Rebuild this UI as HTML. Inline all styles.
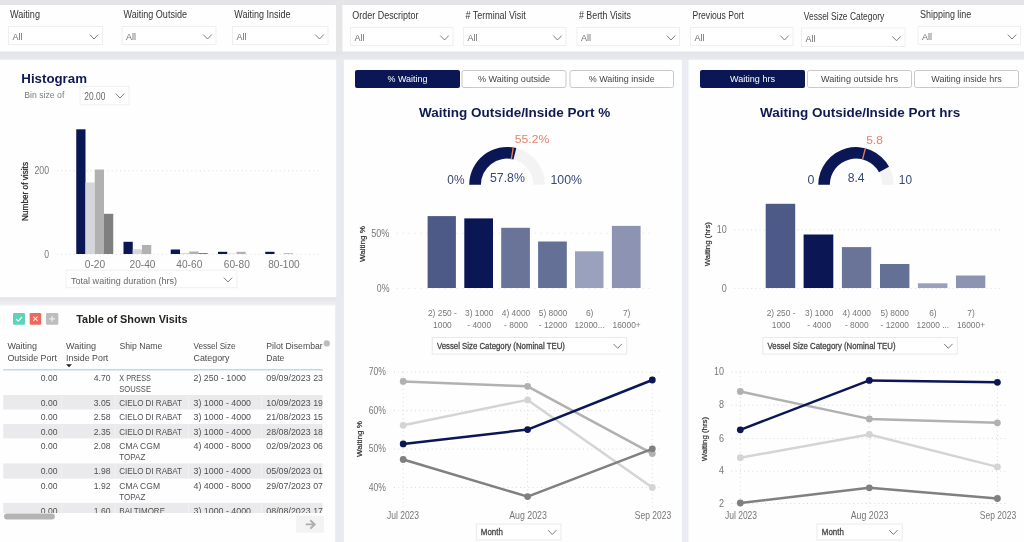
<!DOCTYPE html>
<html><head><meta charset="utf-8"><title>Port waiting dashboard</title>
<style>
html,body{margin:0;padding:0;background:#e6e6eb;}
body{width:1024px;height:542px;overflow:hidden;font-family:"Liberation Sans",sans-serif;}
svg{display:block;font-family:"Liberation Sans",sans-serif;}
#soft{filter:blur(0.38px);}
</style></head><body>
<svg width="1024" height="542" viewBox="0 0 1024 542">
<defs>
<linearGradient id="gh" x1="0" y1="0" x2="0" y2="1"><stop offset="0" stop-color="#e2e3e8"/><stop offset="1" stop-color="#e9eaee"/></linearGradient>
<linearGradient id="gh2" x1="0" y1="0" x2="0" y2="1"><stop offset="0" stop-color="#e2e3e8"/><stop offset="1" stop-color="#f1f1f5"/></linearGradient>
<clipPath id="tblclip"><rect x="0" y="330" width="322.7" height="182.9"/></clipPath>
</defs>
<rect x="0" y="0" width="1024" height="542" fill="#e6e6eb"/>
<g id="soft">

<rect x="0.00" y="0.00" width="1024.00" height="5.00" fill="#e4e4e8"/>
<rect x="335.00" y="0.00" width="9.00" height="52.00" fill="#e6e6e6"/>
<rect x="0.00" y="51.50" width="1024.00" height="8.50" fill="url(#gh)"/>
<rect x="335.00" y="60.00" width="9.50" height="482.00" fill="#e9eaf0"/>
<rect x="681.00" y="60.00" width="8.00" height="482.00" fill="#ebecf3"/>
<rect x="0.00" y="297.00" width="336.20" height="9.00" fill="url(#gh2)"/>
<rect x="-4.00" y="5.00" width="340.00" height="46.60" fill="#fefefe"/>
<rect x="342.40" y="5.00" width="687.60" height="46.60" fill="#fefefe"/>
<rect x="-4.00" y="59.80" width="340.20" height="237.40" fill="#fefefe"/>
<rect x="-4.00" y="305.40" width="339.20" height="242.60" fill="#fefefe"/>
<rect x="343.90" y="59.80" width="337.90" height="488.20" fill="#fefefe"/>
<rect x="688.50" y="59.80" width="341.50" height="488.20" fill="#fefefe"/>
<text x="10.00" y="18.20" font-size="10" fill="#333333" textLength="30.00" lengthAdjust="spacingAndGlyphs">Waiting</text>
<text x="123.50" y="18.20" font-size="10" fill="#333333" textLength="63.50" lengthAdjust="spacingAndGlyphs">Waiting Outside</text>
<text x="234.30" y="18.20" font-size="10" fill="#333333" textLength="56.20" lengthAdjust="spacingAndGlyphs">Waiting Inside</text>
<text x="352.30" y="18.80" font-size="10" fill="#333333" textLength="66.20" lengthAdjust="spacingAndGlyphs">Order Descriptor</text>
<text x="465.50" y="18.80" font-size="10" fill="#333333" textLength="60.30" lengthAdjust="spacingAndGlyphs"># Terminal Visit</text>
<text x="579.00" y="18.80" font-size="10" fill="#333333" textLength="51.80" lengthAdjust="spacingAndGlyphs"># Berth Visits</text>
<text x="692.50" y="18.80" font-size="10" fill="#333333" textLength="51.50" lengthAdjust="spacingAndGlyphs">Previous Port</text>
<text x="803.80" y="20.20" font-size="10" fill="#333333" textLength="80.50" lengthAdjust="spacingAndGlyphs">Vessel Size Category</text>
<text x="920.00" y="17.80" font-size="10" fill="#333333" textLength="51.30" lengthAdjust="spacingAndGlyphs">Shipping line</text>
<rect x="8.50" y="26.50" width="94.00" height="18.00" fill="#fff" stroke="#efefef" stroke-width="1"/>
<text x="12.50" y="40.26" font-size="9.6" fill="#707070" textLength="10.00" lengthAdjust="spacingAndGlyphs">All</text>
<path d="M89.80 34.60 L94.00 39.00 L98.20 34.60" fill="none" stroke="#757575" stroke-width="0.95"/>
<rect x="122.00" y="26.50" width="94.00" height="18.00" fill="#fff" stroke="#efefef" stroke-width="1"/>
<text x="126.00" y="40.26" font-size="9.6" fill="#707070" textLength="10.00" lengthAdjust="spacingAndGlyphs">All</text>
<path d="M203.30 34.60 L207.50 39.00 L211.70 34.60" fill="none" stroke="#757575" stroke-width="0.95"/>
<rect x="232.50" y="26.50" width="95.50" height="18.00" fill="#fff" stroke="#efefef" stroke-width="1"/>
<text x="236.50" y="40.26" font-size="9.6" fill="#707070" textLength="10.00" lengthAdjust="spacingAndGlyphs">All</text>
<path d="M315.30 34.60 L319.50 39.00 L323.70 34.60" fill="none" stroke="#757575" stroke-width="0.95"/>
<rect x="350.50" y="27.50" width="102.50" height="18.00" fill="#fff" stroke="#efefef" stroke-width="1"/>
<text x="354.50" y="41.26" font-size="9.6" fill="#707070" textLength="10.00" lengthAdjust="spacingAndGlyphs">All</text>
<path d="M440.30 35.60 L444.50 40.00 L448.70 35.60" fill="none" stroke="#757575" stroke-width="0.95"/>
<rect x="463.50" y="27.50" width="102.50" height="18.00" fill="#fff" stroke="#efefef" stroke-width="1"/>
<text x="467.50" y="41.26" font-size="9.6" fill="#707070" textLength="10.00" lengthAdjust="spacingAndGlyphs">All</text>
<path d="M553.30 35.60 L557.50 40.00 L561.70 35.60" fill="none" stroke="#757575" stroke-width="0.95"/>
<rect x="577.00" y="27.50" width="102.50" height="18.00" fill="#fff" stroke="#efefef" stroke-width="1"/>
<text x="581.00" y="41.26" font-size="9.6" fill="#707070" textLength="10.00" lengthAdjust="spacingAndGlyphs">All</text>
<path d="M666.80 35.60 L671.00 40.00 L675.20 35.60" fill="none" stroke="#757575" stroke-width="0.95"/>
<rect x="690.50" y="27.50" width="102.50" height="18.00" fill="#fff" stroke="#efefef" stroke-width="1"/>
<text x="694.50" y="41.26" font-size="9.6" fill="#707070" textLength="10.00" lengthAdjust="spacingAndGlyphs">All</text>
<path d="M780.30 35.60 L784.50 40.00 L788.70 35.60" fill="none" stroke="#757575" stroke-width="0.95"/>
<rect x="801.50" y="28.00" width="103.50" height="18.50" fill="#fff" stroke="#efefef" stroke-width="1"/>
<text x="805.50" y="42.01" font-size="9.6" fill="#707070" textLength="10.00" lengthAdjust="spacingAndGlyphs">All</text>
<path d="M892.30 36.35 L896.50 40.75 L900.70 36.35" fill="none" stroke="#757575" stroke-width="0.95"/>
<rect x="918.00" y="26.50" width="102.50" height="18.00" fill="#fff" stroke="#efefef" stroke-width="1"/>
<text x="922.00" y="40.26" font-size="9.6" fill="#707070" textLength="10.00" lengthAdjust="spacingAndGlyphs">All</text>
<path d="M1007.80 34.60 L1012.00 39.00 L1016.20 34.60" fill="none" stroke="#757575" stroke-width="0.95"/>
<text x="21.30" y="82.50" font-size="13" fill="#0f1a52" font-weight="700" textLength="65.70" lengthAdjust="spacingAndGlyphs">Histogram</text>
<text x="24.30" y="98.20" font-size="9.5" fill="#7a7a7a" textLength="40.00" lengthAdjust="spacingAndGlyphs">Bin size of</text>
<rect x="80.00" y="86.30" width="49.00" height="18.50" fill="#fff" stroke="#efefef" stroke-width="1"/>
<text x="84.30" y="100.15" font-size="10" fill="#666" textLength="21.00" lengthAdjust="spacingAndGlyphs">20.00</text>
<path d="M115.80 93.65 L120.00 98.05 L124.20 93.65" fill="none" stroke="#757575" stroke-width="0.95"/>
<line x1="57.00" y1="170.80" x2="319.00" y2="170.80" stroke="#d9d9d9" stroke-width="1" stroke-dasharray="1 3.2"/>
<line x1="57.00" y1="254.30" x2="319.00" y2="254.30" stroke="#d9d9d9" stroke-width="1" stroke-dasharray="1 3.2"/>
<text x="34.50" y="174.40" font-size="10" fill="#777" textLength="14.50" lengthAdjust="spacingAndGlyphs">200</text>
<text x="44.20" y="257.80" font-size="10" fill="#777" textLength="4.80" lengthAdjust="spacingAndGlyphs">0</text>
<text transform="translate(28.20,191.50) rotate(-90)" x="-29.50" y="0" font-size="8.5" fill="#222" stroke="#222" stroke-width="0.22" textLength="59.00" lengthAdjust="spacingAndGlyphs">Number of visits</text>
<rect x="76.25" y="129.30" width="9.25" height="124.70" fill="#0b1654"/>
<rect x="85.50" y="182.50" width="9.25" height="71.50" fill="#d5d6da"/>
<rect x="94.75" y="169.50" width="9.25" height="84.50" fill="#b1b1b1"/>
<rect x="104.00" y="213.80" width="9.25" height="40.20" fill="#7f7f7f"/>
<rect x="123.50" y="241.80" width="9.25" height="12.20" fill="#0b1654"/>
<rect x="132.75" y="249.30" width="9.25" height="4.70" fill="#d5d6da"/>
<rect x="142.00" y="245.00" width="9.25" height="9.00" fill="#b1b1b1"/>
<rect x="170.75" y="249.50" width="9.25" height="4.50" fill="#0b1654"/>
<rect x="180.00" y="253.00" width="9.25" height="1.00" fill="#d5d6da"/>
<rect x="189.25" y="251.50" width="9.25" height="2.50" fill="#b1b1b1"/>
<rect x="198.50" y="253.00" width="9.25" height="1.00" fill="#7f7f7f"/>
<rect x="218.00" y="251.80" width="9.25" height="2.20" fill="#0b1654"/>
<rect x="227.25" y="253.50" width="9.25" height="0.50" fill="#d5d6da"/>
<rect x="236.50" y="251.80" width="9.25" height="2.20" fill="#b1b1b1"/>
<rect x="265.25" y="251.80" width="9.25" height="2.20" fill="#0b1654"/>
<rect x="283.75" y="253.20" width="9.25" height="0.80" fill="#b1b1b1"/>
<text x="84.75" y="267.60" font-size="11" fill="#777" textLength="20.50" lengthAdjust="spacingAndGlyphs">0-20</text>
<text x="129.50" y="267.60" font-size="11" fill="#777" textLength="26.00" lengthAdjust="spacingAndGlyphs">20-40</text>
<text x="176.30" y="267.60" font-size="11" fill="#777" textLength="26.00" lengthAdjust="spacingAndGlyphs">40-60</text>
<text x="223.80" y="267.60" font-size="11" fill="#777" textLength="26.00" lengthAdjust="spacingAndGlyphs">60-80</text>
<text x="268.25" y="267.60" font-size="11" fill="#777" textLength="31.50" lengthAdjust="spacingAndGlyphs">80-100</text>
<rect x="66.00" y="270.10" width="171.00" height="17.60" fill="#fff" stroke="#efefef" stroke-width="1"/>
<text x="71.00" y="283.56" font-size="9.6" fill="#666" textLength="106.00" lengthAdjust="spacingAndGlyphs">Total waiting duration (hrs)</text>
<path d="M223.80 277.60 L228.00 282.00 L232.20 277.60" fill="none" stroke="#757575" stroke-width="0.95"/>
<rect x="13" y="313" width="12" height="11.699999999999989" rx="1.2" fill="#5fd2ba"/>
<path d="M16.2 319.2 L18.3 321.2 L22 317" fill="none" stroke="#fff" stroke-width="1.15" opacity="0.9"/>
<rect x="29.7" y="313" width="11.500000000000004" height="11.699999999999989" rx="1.2" fill="#e9695c"/>
<path d="M33.3 316.6 L37.6 320.9 M37.6 316.6 L33.3 320.9" fill="none" stroke="#fff" stroke-width="1.1" opacity="0.85"/>
<rect x="46" y="313" width="12.299999999999997" height="11.699999999999989" rx="1.2" fill="#bdbdbd"/>
<path d="M52.15 316 L52.15 321.8 M49.2 318.9 L55.1 318.9" fill="none" stroke="#ececec" stroke-width="1.3"/>
<text x="76.30" y="322.90" font-size="11.5" fill="#252423" font-weight="700" textLength="111.20" lengthAdjust="spacingAndGlyphs">Table of Shown Visits</text>
<text x="7.40" y="349.40" font-size="9.5" fill="#4a4a4a" textLength="29.60" lengthAdjust="spacingAndGlyphs">Waiting</text>
<text x="7.40" y="361.20" font-size="9.5" fill="#4a4a4a" textLength="49.60" lengthAdjust="spacingAndGlyphs">Outside Port</text>
<text x="66.10" y="349.40" font-size="9.5" fill="#4a4a4a" textLength="29.90" lengthAdjust="spacingAndGlyphs">Waiting</text>
<text x="66.10" y="361.20" font-size="9.5" fill="#4a4a4a" textLength="42.20" lengthAdjust="spacingAndGlyphs">Inside Port</text>
<text x="119.40" y="349.40" font-size="9.5" fill="#4a4a4a" textLength="42.90" lengthAdjust="spacingAndGlyphs">Ship Name</text>
<text x="193.50" y="349.40" font-size="9.5" fill="#4a4a4a" textLength="42.00" lengthAdjust="spacingAndGlyphs">Vessel Size</text>
<text x="193.50" y="361.20" font-size="9.5" fill="#4a4a4a" textLength="36.00" lengthAdjust="spacingAndGlyphs">Category</text>
<g clip-path="url(#tblclip)">
<text x="266.30" y="349.40" font-size="9.5" fill="#4a4a4a" textLength="79.50" lengthAdjust="spacingAndGlyphs">Pilot Disembarkation</text>
<text x="266.30" y="361.20" font-size="9.5" fill="#4a4a4a" textLength="18.00" lengthAdjust="spacingAndGlyphs">Date</text>
</g>
<path d="M66 364.2 L72 364.2 L69 367.2 Z" fill="#222"/>
<circle cx="326.8" cy="343.4" r="3.1" fill="#bdbdbd"/>
<rect x="3.30" y="369.20" width="319.40" height="1.20" fill="#a9d2f3"/>
<g clip-path="url(#tblclip)">
<text x="40.80" y="381.20" font-size="9.2" fill="#4f4f4f" textLength="16.70" lengthAdjust="spacingAndGlyphs">0.00</text>
<text x="93.80" y="381.20" font-size="9.2" fill="#4f4f4f" textLength="16.70" lengthAdjust="spacingAndGlyphs">4.70</text>
<text x="119.30" y="381.20" font-size="9.2" fill="#4f4f4f" textLength="31.70" lengthAdjust="spacingAndGlyphs">X PRESS</text>
<text x="119.30" y="391.90" font-size="9.2" fill="#4f4f4f" textLength="31.70" lengthAdjust="spacingAndGlyphs">SOUSSE</text>
<text x="193.50" y="381.20" font-size="9.2" fill="#4f4f4f" textLength="52.50" lengthAdjust="spacingAndGlyphs">2) 250 - 1000</text>
<text x="266.30" y="381.20" font-size="9.2" fill="#4f4f4f" textLength="56.70" lengthAdjust="spacingAndGlyphs">09/09/2023 23</text>
<rect x="3.30" y="395.00" width="319.40" height="14.50" fill="#eaeaec"/>
<line x1="61.7" y1="396.0" x2="61.7" y2="408.5" stroke="#f1f1f3" stroke-width="1"/>
<line x1="115.0" y1="396.0" x2="115.0" y2="408.5" stroke="#f1f1f3" stroke-width="1"/>
<line x1="188.5" y1="396.0" x2="188.5" y2="408.5" stroke="#f1f1f3" stroke-width="1"/>
<line x1="261.5" y1="396.0" x2="261.5" y2="408.5" stroke="#f1f1f3" stroke-width="1"/>
<text x="40.80" y="405.80" font-size="9.2" fill="#4f4f4f" textLength="16.70" lengthAdjust="spacingAndGlyphs">0.00</text>
<text x="93.80" y="405.80" font-size="9.2" fill="#4f4f4f" textLength="16.70" lengthAdjust="spacingAndGlyphs">3.05</text>
<text x="119.30" y="405.80" font-size="9.2" fill="#4f4f4f" textLength="62.70" lengthAdjust="spacingAndGlyphs">CIELO DI RABAT</text>
<text x="193.50" y="405.80" font-size="9.2" fill="#4f4f4f" textLength="57.50" lengthAdjust="spacingAndGlyphs">3) 1000 - 4000</text>
<text x="266.30" y="405.80" font-size="9.2" fill="#4f4f4f" textLength="56.70" lengthAdjust="spacingAndGlyphs">10/09/2023 19</text>
<text x="40.80" y="420.30" font-size="9.2" fill="#4f4f4f" textLength="16.70" lengthAdjust="spacingAndGlyphs">0.00</text>
<text x="93.80" y="420.30" font-size="9.2" fill="#4f4f4f" textLength="16.70" lengthAdjust="spacingAndGlyphs">2.58</text>
<text x="119.30" y="420.30" font-size="9.2" fill="#4f4f4f" textLength="62.70" lengthAdjust="spacingAndGlyphs">CIELO DI RABAT</text>
<text x="193.50" y="420.30" font-size="9.2" fill="#4f4f4f" textLength="57.50" lengthAdjust="spacingAndGlyphs">3) 1000 - 4000</text>
<text x="266.30" y="420.30" font-size="9.2" fill="#4f4f4f" textLength="56.70" lengthAdjust="spacingAndGlyphs">21/08/2023 15</text>
<rect x="3.30" y="424.00" width="319.40" height="14.40" fill="#eaeaec"/>
<line x1="61.7" y1="425.0" x2="61.7" y2="437.4" stroke="#f1f1f3" stroke-width="1"/>
<line x1="115.0" y1="425.0" x2="115.0" y2="437.4" stroke="#f1f1f3" stroke-width="1"/>
<line x1="188.5" y1="425.0" x2="188.5" y2="437.4" stroke="#f1f1f3" stroke-width="1"/>
<line x1="261.5" y1="425.0" x2="261.5" y2="437.4" stroke="#f1f1f3" stroke-width="1"/>
<text x="40.80" y="434.80" font-size="9.2" fill="#4f4f4f" textLength="16.70" lengthAdjust="spacingAndGlyphs">0.00</text>
<text x="93.80" y="434.80" font-size="9.2" fill="#4f4f4f" textLength="16.70" lengthAdjust="spacingAndGlyphs">2.35</text>
<text x="119.30" y="434.80" font-size="9.2" fill="#4f4f4f" textLength="62.70" lengthAdjust="spacingAndGlyphs">CIELO DI RABAT</text>
<text x="193.50" y="434.80" font-size="9.2" fill="#4f4f4f" textLength="57.50" lengthAdjust="spacingAndGlyphs">3) 1000 - 4000</text>
<text x="266.30" y="434.80" font-size="9.2" fill="#4f4f4f" textLength="56.70" lengthAdjust="spacingAndGlyphs">28/08/2023 18</text>
<text x="40.80" y="449.20" font-size="9.2" fill="#4f4f4f" textLength="16.70" lengthAdjust="spacingAndGlyphs">0.00</text>
<text x="93.80" y="449.20" font-size="9.2" fill="#4f4f4f" textLength="16.70" lengthAdjust="spacingAndGlyphs">2.08</text>
<text x="119.30" y="449.20" font-size="9.2" fill="#4f4f4f" textLength="40.70" lengthAdjust="spacingAndGlyphs">CMA CGM</text>
<text x="119.30" y="459.90" font-size="9.2" fill="#4f4f4f" textLength="26.00" lengthAdjust="spacingAndGlyphs">TOPAZ</text>
<text x="193.50" y="449.20" font-size="9.2" fill="#4f4f4f" textLength="57.50" lengthAdjust="spacingAndGlyphs">4) 4000 - 8000</text>
<text x="266.30" y="449.20" font-size="9.2" fill="#4f4f4f" textLength="56.70" lengthAdjust="spacingAndGlyphs">02/09/2023 06</text>
<rect x="3.30" y="463.40" width="319.40" height="15.20" fill="#eaeaec"/>
<line x1="61.7" y1="464.4" x2="61.7" y2="477.6" stroke="#f1f1f3" stroke-width="1"/>
<line x1="115.0" y1="464.4" x2="115.0" y2="477.6" stroke="#f1f1f3" stroke-width="1"/>
<line x1="188.5" y1="464.4" x2="188.5" y2="477.6" stroke="#f1f1f3" stroke-width="1"/>
<line x1="261.5" y1="464.4" x2="261.5" y2="477.6" stroke="#f1f1f3" stroke-width="1"/>
<text x="40.80" y="474.20" font-size="9.2" fill="#4f4f4f" textLength="16.70" lengthAdjust="spacingAndGlyphs">0.00</text>
<text x="93.80" y="474.20" font-size="9.2" fill="#4f4f4f" textLength="16.70" lengthAdjust="spacingAndGlyphs">1.98</text>
<text x="119.30" y="474.20" font-size="9.2" fill="#4f4f4f" textLength="62.70" lengthAdjust="spacingAndGlyphs">CIELO DI RABAT</text>
<text x="193.50" y="474.20" font-size="9.2" fill="#4f4f4f" textLength="57.50" lengthAdjust="spacingAndGlyphs">3) 1000 - 4000</text>
<text x="266.30" y="474.20" font-size="9.2" fill="#4f4f4f" textLength="56.70" lengthAdjust="spacingAndGlyphs">05/09/2023 01</text>
<text x="40.80" y="489.40" font-size="9.2" fill="#4f4f4f" textLength="16.70" lengthAdjust="spacingAndGlyphs">0.00</text>
<text x="93.80" y="489.40" font-size="9.2" fill="#4f4f4f" textLength="16.70" lengthAdjust="spacingAndGlyphs">1.92</text>
<text x="119.30" y="489.40" font-size="9.2" fill="#4f4f4f" textLength="40.70" lengthAdjust="spacingAndGlyphs">CMA CGM</text>
<text x="119.30" y="500.10" font-size="9.2" fill="#4f4f4f" textLength="26.00" lengthAdjust="spacingAndGlyphs">TOPAZ</text>
<text x="193.50" y="489.40" font-size="9.2" fill="#4f4f4f" textLength="57.50" lengthAdjust="spacingAndGlyphs">4) 4000 - 8000</text>
<text x="266.30" y="489.40" font-size="9.2" fill="#4f4f4f" textLength="56.70" lengthAdjust="spacingAndGlyphs">29/07/2023 07</text>
<rect x="3.30" y="502.90" width="319.40" height="17.10" fill="#eaeaec"/>
<line x1="61.7" y1="503.9" x2="61.7" y2="519.0" stroke="#f1f1f3" stroke-width="1"/>
<line x1="115.0" y1="503.9" x2="115.0" y2="519.0" stroke="#f1f1f3" stroke-width="1"/>
<line x1="188.5" y1="503.9" x2="188.5" y2="519.0" stroke="#f1f1f3" stroke-width="1"/>
<line x1="261.5" y1="503.9" x2="261.5" y2="519.0" stroke="#f1f1f3" stroke-width="1"/>
<text x="40.80" y="513.70" font-size="9.2" fill="#4f4f4f" textLength="16.70" lengthAdjust="spacingAndGlyphs">0.00</text>
<text x="93.80" y="513.70" font-size="9.2" fill="#4f4f4f" textLength="16.70" lengthAdjust="spacingAndGlyphs">1.60</text>
<text x="119.30" y="513.70" font-size="9.2" fill="#4f4f4f" textLength="45.70" lengthAdjust="spacingAndGlyphs">BALTIMORE</text>
<text x="193.50" y="513.70" font-size="9.2" fill="#4f4f4f" textLength="57.50" lengthAdjust="spacingAndGlyphs">3) 1000 - 4000</text>
<text x="266.30" y="513.70" font-size="9.2" fill="#4f4f4f" textLength="56.70" lengthAdjust="spacingAndGlyphs">08/08/2023 17</text>
</g>
<rect x="4" y="513.4" width="50.8" height="6" rx="3" fill="#b4b4b4"/>
<rect x="296.10" y="515.90" width="27.80" height="16.80" fill="#f3f3f3"/>
<path d="M305.8 524.4 L314.4 524.4 M310.3 520.2 L314.7 524.4 L310.3 528.6" fill="none" stroke="#adadad" stroke-width="1.9"/>
<rect x="355" y="70" width="105" height="18" rx="2" fill="#0b1654"/>
<text x="387.50" y="82.33" font-size="9.5" fill="#fff" textLength="40.00" lengthAdjust="spacingAndGlyphs">% Waiting</text>
<rect x="462.0" y="70.5" width="104.0" height="17" rx="2" fill="#fff" stroke="#c9c9c9" stroke-width="1"/>
<text x="478.00" y="82.33" font-size="9.5" fill="#444" textLength="72.00" lengthAdjust="spacingAndGlyphs">% Waiting outside</text>
<rect x="570.0" y="70.5" width="103.5" height="17" rx="2" fill="#fff" stroke="#c9c9c9" stroke-width="1"/>
<text x="588.75" y="82.33" font-size="9.5" fill="#444" textLength="66.00" lengthAdjust="spacingAndGlyphs">% Waiting inside</text>
<text x="419.00" y="116.60" font-size="12.3" fill="#0f1a52" font-weight="700" textLength="191.30" lengthAdjust="spacingAndGlyphs">Waiting Outside/Inside Port %</text>
<path d="M469.20 184.80 A37.9 37.9 0 0 1 545.00 184.80 L533.30 184.80 A26.2 26.2 0 0 0 480.90 184.80 Z" fill="#f3f3f3"/>
<path d="M469.20 184.80 A37.9 37.9 0 0 1 516.29 148.03 L513.46 159.38 A26.2 26.2 0 0 0 480.90 184.80 Z" fill="#0b1654"/>
<line x1="513.35" y1="146.91" x2="511.28" y2="159.44" stroke="#e8806c" stroke-width="1.3"/>
<text x="514.70" y="143.00" font-size="11.6" fill="#e8806c" textLength="34.60" lengthAdjust="spacingAndGlyphs">55.2%</text>
<text x="447.30" y="184.40" font-size="12.2" fill="#3a4878" textLength="17.20" lengthAdjust="spacingAndGlyphs">0%</text>
<text x="490.00" y="181.90" font-size="12.2" fill="#3a4878" textLength="34.90" lengthAdjust="spacingAndGlyphs">57.8%</text>
<text x="550.50" y="184.40" font-size="12.2" fill="#3a4878" textLength="31.50" lengthAdjust="spacingAndGlyphs">100%</text>
<line x1="396.70" y1="233.30" x2="654.30" y2="233.30" stroke="#d9d9d9" stroke-width="1" stroke-dasharray="1 5"/>
<line x1="396.70" y1="288.30" x2="654.30" y2="288.30" stroke="#d9d9d9" stroke-width="1" stroke-dasharray="1 5"/>
<text x="371.20" y="236.80" font-size="10.3" fill="#777" textLength="18.30" lengthAdjust="spacingAndGlyphs">50%</text>
<text x="376.80" y="291.80" font-size="10.3" fill="#777" textLength="12.70" lengthAdjust="spacingAndGlyphs">0%</text>
<text transform="translate(365.20,244.00) rotate(-90)" x="-18.00" y="0" font-size="7.9" fill="#333" stroke="#333" stroke-width="0.22" textLength="36.00" lengthAdjust="spacingAndGlyphs">Waiting %</text>
<rect x="427.60" y="216.10" width="28.30" height="71.90" fill="#4d5a87"/>
<rect x="464.30" y="218.40" width="28.70" height="69.60" fill="#0b1654"/>
<rect x="501.20" y="227.80" width="28.70" height="60.20" fill="#6a7499"/>
<rect x="538.10" y="241.50" width="28.70" height="46.50" fill="#647096"/>
<rect x="575.00" y="251.30" width="28.50" height="36.70" fill="#9aa1bd"/>
<rect x="611.90" y="225.90" width="28.70" height="62.10" fill="#8d94b2"/>
<text x="427.96" y="316.10" font-size="9.8" fill="#777" textLength="28.87" lengthAdjust="spacingAndGlyphs">2) 250 -</text>
<text x="433.08" y="328.20" font-size="9.8" fill="#777" textLength="18.64" lengthAdjust="spacingAndGlyphs">1000</text>
<text x="464.99" y="316.10" font-size="9.8" fill="#777" textLength="28.42" lengthAdjust="spacingAndGlyphs">3) 1000</text>
<text x="467.32" y="328.20" font-size="9.8" fill="#777" textLength="23.76" lengthAdjust="spacingAndGlyphs">- 4000</text>
<text x="501.79" y="316.10" font-size="9.8" fill="#777" textLength="28.42" lengthAdjust="spacingAndGlyphs">4) 4000</text>
<text x="504.12" y="328.20" font-size="9.8" fill="#777" textLength="23.76" lengthAdjust="spacingAndGlyphs">- 8000</text>
<text x="538.79" y="316.10" font-size="9.8" fill="#777" textLength="28.42" lengthAdjust="spacingAndGlyphs">5) 8000</text>
<text x="538.79" y="328.20" font-size="9.8" fill="#777" textLength="28.42" lengthAdjust="spacingAndGlyphs">- 12000</text>
<text x="585.88" y="316.10" font-size="9.8" fill="#777" textLength="7.45" lengthAdjust="spacingAndGlyphs">6)</text>
<text x="574.46" y="328.20" font-size="9.8" fill="#777" textLength="30.28" lengthAdjust="spacingAndGlyphs">12000...</text>
<text x="622.88" y="316.10" font-size="9.8" fill="#777" textLength="7.45" lengthAdjust="spacingAndGlyphs">7)</text>
<text x="612.50" y="328.20" font-size="9.8" fill="#777" textLength="28.19" lengthAdjust="spacingAndGlyphs">16000+</text>
<rect x="432.20" y="337.50" width="194.50" height="16.60" fill="#fff" stroke="#e9e9e9" stroke-width="1"/>
<text x="436.90" y="348.86" font-size="8.5" fill="#444" textLength="128.00" lengthAdjust="spacingAndGlyphs" stroke="#444" stroke-width="0.28">Vessel Size Category (Nominal TEU)</text>
<path d="M613.50 343.90 L617.70 348.30 L621.90 343.90" fill="none" stroke="#757575" stroke-width="0.95"/>
<line x1="394.00" y1="372.00" x2="661.00" y2="372.00" stroke="#d9d9d9" stroke-width="1" stroke-dasharray="1 3.2"/>
<line x1="394.00" y1="410.70" x2="661.00" y2="410.70" stroke="#d9d9d9" stroke-width="1" stroke-dasharray="1 3.2"/>
<line x1="394.00" y1="449.10" x2="661.00" y2="449.10" stroke="#d9d9d9" stroke-width="1" stroke-dasharray="1 3.2"/>
<line x1="394.00" y1="487.40" x2="661.00" y2="487.40" stroke="#d9d9d9" stroke-width="1" stroke-dasharray="1 3.2"/>
<line x1="403.20" y1="372.00" x2="403.20" y2="507.00" stroke="#d9d9d9" stroke-width="1" stroke-dasharray="1 3.2"/>
<line x1="527.60" y1="372.00" x2="527.60" y2="507.00" stroke="#d9d9d9" stroke-width="1" stroke-dasharray="1 3.2"/>
<line x1="652.30" y1="372.00" x2="652.30" y2="507.00" stroke="#d9d9d9" stroke-width="1" stroke-dasharray="1 3.2"/>
<text x="368.80" y="375.20" font-size="10.3" fill="#777" textLength="17.20" lengthAdjust="spacingAndGlyphs">70%</text>
<text x="368.80" y="413.90" font-size="10.3" fill="#777" textLength="17.20" lengthAdjust="spacingAndGlyphs">60%</text>
<text x="368.80" y="452.30" font-size="10.3" fill="#777" textLength="17.20" lengthAdjust="spacingAndGlyphs">50%</text>
<text x="368.80" y="490.60" font-size="10.3" fill="#777" textLength="17.20" lengthAdjust="spacingAndGlyphs">40%</text>
<text transform="translate(361.60,439.00) rotate(-90)" x="-18.00" y="0" font-size="7.9" fill="#333" stroke="#333" stroke-width="0.22" textLength="36.00" lengthAdjust="spacingAndGlyphs">Waiting %</text>
<polyline points="403.20,425.30 527.60,399.90 652.30,487.40" fill="none" stroke="#d4d4d4" stroke-width="2.5" stroke-linejoin="round" stroke-linecap="round"/>
<circle cx="403.20" cy="425.30" r="3.4" fill="#d4d4d4"/>
<circle cx="527.60" cy="399.90" r="3.4" fill="#d4d4d4"/>
<circle cx="652.30" cy="487.40" r="3.4" fill="#d4d4d4"/>
<polyline points="403.20,381.40 527.60,386.30 652.30,453.60" fill="none" stroke="#b1b1b1" stroke-width="2.5" stroke-linejoin="round" stroke-linecap="round"/>
<circle cx="403.20" cy="381.40" r="3.4" fill="#b1b1b1"/>
<circle cx="527.60" cy="386.30" r="3.4" fill="#b1b1b1"/>
<circle cx="652.30" cy="453.60" r="3.4" fill="#b1b1b1"/>
<polyline points="403.20,459.50 527.60,496.60 652.30,448.80" fill="none" stroke="#808080" stroke-width="2.5" stroke-linejoin="round" stroke-linecap="round"/>
<circle cx="403.20" cy="459.50" r="3.4" fill="#808080"/>
<circle cx="527.60" cy="496.60" r="3.4" fill="#808080"/>
<circle cx="652.30" cy="448.80" r="3.4" fill="#808080"/>
<polyline points="403.20,443.90 527.60,429.60 652.30,380.00" fill="none" stroke="#0b1654" stroke-width="2.5" stroke-linejoin="round" stroke-linecap="round"/>
<circle cx="403.20" cy="443.90" r="3.4" fill="#0b1654"/>
<circle cx="527.60" cy="429.60" r="3.4" fill="#0b1654"/>
<circle cx="652.30" cy="380.00" r="3.4" fill="#0b1654"/>
<text x="386.90" y="519.00" font-size="10.3" fill="#777" textLength="32.20" lengthAdjust="spacingAndGlyphs">Jul 2023</text>
<text x="509.15" y="519.00" font-size="10.3" fill="#777" textLength="37.70" lengthAdjust="spacingAndGlyphs">Aug 2023</text>
<text x="634.85" y="519.00" font-size="10.3" fill="#777" textLength="36.30" lengthAdjust="spacingAndGlyphs">Sep 2023</text>
<rect x="476.30" y="524.00" width="84.70" height="16.00" fill="#fff" stroke="#e9e9e9" stroke-width="1"/>
<text x="480.80" y="535.17" font-size="8.8" fill="#444" textLength="22.00" lengthAdjust="spacingAndGlyphs" stroke="#444" stroke-width="0.28">Month</text>
<path d="M548.00 530.10 L552.20 534.50 L556.40 530.10" fill="none" stroke="#757575" stroke-width="0.95"/>
<rect x="700" y="70" width="105" height="18" rx="2" fill="#0b1654"/>
<text x="730.00" y="82.33" font-size="9.5" fill="#fff" textLength="45.00" lengthAdjust="spacingAndGlyphs">Waiting hrs</text>
<rect x="807.5" y="70.5" width="104" height="17" rx="2" fill="#fff" stroke="#c9c9c9" stroke-width="1"/>
<text x="821.00" y="82.33" font-size="9.5" fill="#444" textLength="77.00" lengthAdjust="spacingAndGlyphs">Waiting outside hrs</text>
<rect x="914.5" y="70.5" width="104" height="17" rx="2" fill="#fff" stroke="#c9c9c9" stroke-width="1"/>
<text x="931.25" y="82.33" font-size="9.5" fill="#444" textLength="70.50" lengthAdjust="spacingAndGlyphs">Waiting inside hrs</text>
<text x="760.00" y="116.60" font-size="12.3" fill="#0f1a52" font-weight="700" textLength="200.30" lengthAdjust="spacingAndGlyphs">Waiting Outside/Inside Port hrs</text>
<path d="M818.30 184.80 A37.7 37.7 0 0 1 893.70 184.80 L882.20 184.80 A26.2 26.2 0 0 0 829.80 184.80 Z" fill="#f3f3f3"/>
<path d="M818.30 184.80 A37.7 37.7 0 0 1 889.04 166.64 L878.96 172.18 A26.2 26.2 0 0 0 829.80 184.80 Z" fill="#0b1654"/>
<line x1="865.50" y1="147.80" x2="862.39" y2="159.91" stroke="#e8806c" stroke-width="1.3"/>
<text x="866.20" y="143.60" font-size="11.6" fill="#e8806c" textLength="16.60" lengthAdjust="spacingAndGlyphs">5.8</text>
<text x="807.60" y="184.40" font-size="12.2" fill="#3a4878" textLength="6.90" lengthAdjust="spacingAndGlyphs">0</text>
<text x="847.70" y="181.90" font-size="12.2" fill="#3a4878" textLength="16.90" lengthAdjust="spacingAndGlyphs">8.4</text>
<text x="898.80" y="184.40" font-size="12.2" fill="#3a4878" textLength="13.20" lengthAdjust="spacingAndGlyphs">10</text>
<line x1="734.30" y1="229.80" x2="1000.00" y2="229.80" stroke="#d9d9d9" stroke-width="1" stroke-dasharray="1 3.2"/>
<line x1="734.30" y1="288.30" x2="1000.00" y2="288.30" stroke="#d9d9d9" stroke-width="1" stroke-dasharray="1 3.2"/>
<text x="716.70" y="233.30" font-size="10.3" fill="#777" textLength="10.00" lengthAdjust="spacingAndGlyphs">10</text>
<text x="721.70" y="291.80" font-size="10.3" fill="#777" textLength="5.00" lengthAdjust="spacingAndGlyphs">0</text>
<text transform="translate(710.20,244.20) rotate(-90)" x="-22.15" y="0" font-size="7.9" fill="#333" stroke="#333" stroke-width="0.22" textLength="44.30" lengthAdjust="spacingAndGlyphs">Waiting (hrs)</text>
<rect x="765.70" y="203.80" width="29.50" height="84.20" fill="#4d5a87"/>
<rect x="803.60" y="234.50" width="29.70" height="53.50" fill="#0b1654"/>
<rect x="841.90" y="247.10" width="29.30" height="40.90" fill="#6a7499"/>
<rect x="880.00" y="264.00" width="29.40" height="24.00" fill="#647096"/>
<rect x="917.90" y="283.30" width="29.50" height="4.70" fill="#9aa1bd"/>
<rect x="956.00" y="275.50" width="29.30" height="12.50" fill="#8d94b2"/>
<text x="766.66" y="316.10" font-size="9.8" fill="#777" textLength="28.87" lengthAdjust="spacingAndGlyphs">2) 250 -</text>
<text x="771.78" y="328.20" font-size="9.8" fill="#777" textLength="18.64" lengthAdjust="spacingAndGlyphs">1000</text>
<text x="804.99" y="316.10" font-size="9.8" fill="#777" textLength="28.42" lengthAdjust="spacingAndGlyphs">3) 1000</text>
<text x="807.32" y="328.20" font-size="9.8" fill="#777" textLength="23.76" lengthAdjust="spacingAndGlyphs">- 4000</text>
<text x="842.59" y="316.10" font-size="9.8" fill="#777" textLength="28.42" lengthAdjust="spacingAndGlyphs">4) 4000</text>
<text x="844.92" y="328.20" font-size="9.8" fill="#777" textLength="23.76" lengthAdjust="spacingAndGlyphs">- 8000</text>
<text x="880.59" y="316.10" font-size="9.8" fill="#777" textLength="28.42" lengthAdjust="spacingAndGlyphs">5) 8000</text>
<text x="880.59" y="328.20" font-size="9.8" fill="#777" textLength="28.42" lengthAdjust="spacingAndGlyphs">- 12000</text>
<text x="929.18" y="316.10" font-size="9.8" fill="#777" textLength="7.45" lengthAdjust="spacingAndGlyphs">6)</text>
<text x="916.60" y="328.20" font-size="9.8" fill="#777" textLength="32.61" lengthAdjust="spacingAndGlyphs">12000 ...</text>
<text x="967.28" y="316.10" font-size="9.8" fill="#777" textLength="7.45" lengthAdjust="spacingAndGlyphs">7)</text>
<text x="956.90" y="328.20" font-size="9.8" fill="#777" textLength="28.19" lengthAdjust="spacingAndGlyphs">16000+</text>
<rect x="762.80" y="337.50" width="194.50" height="16.60" fill="#fff" stroke="#e9e9e9" stroke-width="1"/>
<text x="767.50" y="348.86" font-size="8.5" fill="#444" textLength="128.00" lengthAdjust="spacingAndGlyphs" stroke="#444" stroke-width="0.28">Vessel Size Category (Nominal TEU)</text>
<path d="M944.10 343.90 L948.30 348.30 L952.50 343.90" fill="none" stroke="#757575" stroke-width="0.95"/>
<line x1="731.40" y1="372.00" x2="1006.60" y2="372.00" stroke="#d9d9d9" stroke-width="1" stroke-dasharray="1 3.2"/>
<line x1="731.40" y1="405.20" x2="1006.60" y2="405.20" stroke="#d9d9d9" stroke-width="1" stroke-dasharray="1 3.2"/>
<line x1="731.40" y1="438.40" x2="1006.60" y2="438.40" stroke="#d9d9d9" stroke-width="1" stroke-dasharray="1 3.2"/>
<line x1="731.40" y1="471.20" x2="1006.60" y2="471.20" stroke="#d9d9d9" stroke-width="1" stroke-dasharray="1 3.2"/>
<line x1="731.40" y1="503.50" x2="1006.60" y2="503.50" stroke="#d9d9d9" stroke-width="1" stroke-dasharray="1 3.2"/>
<line x1="740.30" y1="372.00" x2="740.30" y2="507.00" stroke="#d9d9d9" stroke-width="1" stroke-dasharray="1 3.2"/>
<line x1="869.30" y1="372.00" x2="869.30" y2="507.00" stroke="#d9d9d9" stroke-width="1" stroke-dasharray="1 3.2"/>
<line x1="997.40" y1="372.00" x2="997.40" y2="507.00" stroke="#d9d9d9" stroke-width="1" stroke-dasharray="1 3.2"/>
<text x="714.10" y="375.20" font-size="10.3" fill="#777" textLength="10.00" lengthAdjust="spacingAndGlyphs">10</text>
<text x="719.10" y="408.40" font-size="10.3" fill="#777" textLength="5.00" lengthAdjust="spacingAndGlyphs">8</text>
<text x="719.10" y="441.60" font-size="10.3" fill="#777" textLength="5.00" lengthAdjust="spacingAndGlyphs">6</text>
<text x="719.10" y="474.40" font-size="10.3" fill="#777" textLength="5.00" lengthAdjust="spacingAndGlyphs">4</text>
<text x="719.10" y="506.70" font-size="10.3" fill="#777" textLength="5.00" lengthAdjust="spacingAndGlyphs">2</text>
<text transform="translate(707.20,439.00) rotate(-90)" x="-22.15" y="0" font-size="7.9" fill="#333" stroke="#333" stroke-width="0.22" textLength="44.30" lengthAdjust="spacingAndGlyphs">Waiting (hrs)</text>
<polyline points="740.30,457.70 869.30,434.50 997.40,466.90" fill="none" stroke="#d4d4d4" stroke-width="2.5" stroke-linejoin="round" stroke-linecap="round"/>
<circle cx="740.30" cy="457.70" r="3.4" fill="#d4d4d4"/>
<circle cx="869.30" cy="434.50" r="3.4" fill="#d4d4d4"/>
<circle cx="997.40" cy="466.90" r="3.4" fill="#d4d4d4"/>
<polyline points="740.30,391.50 869.30,418.90 997.40,422.80" fill="none" stroke="#b1b1b1" stroke-width="2.5" stroke-linejoin="round" stroke-linecap="round"/>
<circle cx="740.30" cy="391.50" r="3.4" fill="#b1b1b1"/>
<circle cx="869.30" cy="418.90" r="3.4" fill="#b1b1b1"/>
<circle cx="997.40" cy="422.80" r="3.4" fill="#b1b1b1"/>
<polyline points="740.30,503.00 869.30,487.80 997.40,498.50" fill="none" stroke="#808080" stroke-width="2.5" stroke-linejoin="round" stroke-linecap="round"/>
<circle cx="740.30" cy="503.00" r="3.4" fill="#808080"/>
<circle cx="869.30" cy="487.80" r="3.4" fill="#808080"/>
<circle cx="997.40" cy="498.50" r="3.4" fill="#808080"/>
<polyline points="740.30,429.80 869.30,380.40 997.40,382.30" fill="none" stroke="#0b1654" stroke-width="2.5" stroke-linejoin="round" stroke-linecap="round"/>
<circle cx="740.30" cy="429.80" r="3.4" fill="#0b1654"/>
<circle cx="869.30" cy="380.40" r="3.4" fill="#0b1654"/>
<circle cx="997.40" cy="382.30" r="3.4" fill="#0b1654"/>
<text x="724.90" y="519.00" font-size="10.3" fill="#777" textLength="32.20" lengthAdjust="spacingAndGlyphs">Jul 2023</text>
<text x="850.75" y="519.00" font-size="10.3" fill="#777" textLength="37.70" lengthAdjust="spacingAndGlyphs">Aug 2023</text>
<text x="979.75" y="519.00" font-size="10.3" fill="#777" textLength="36.50" lengthAdjust="spacingAndGlyphs">Sep 2023</text>
<rect x="817.00" y="524.00" width="85.20" height="16.00" fill="#fff" stroke="#e9e9e9" stroke-width="1"/>
<text x="821.80" y="535.17" font-size="8.8" fill="#444" textLength="22.00" lengthAdjust="spacingAndGlyphs" stroke="#444" stroke-width="0.28">Month</text>
<path d="M889.20 530.10 L893.40 534.50 L897.60 530.10" fill="none" stroke="#757575" stroke-width="0.95"/>
</g></svg></body></html>
